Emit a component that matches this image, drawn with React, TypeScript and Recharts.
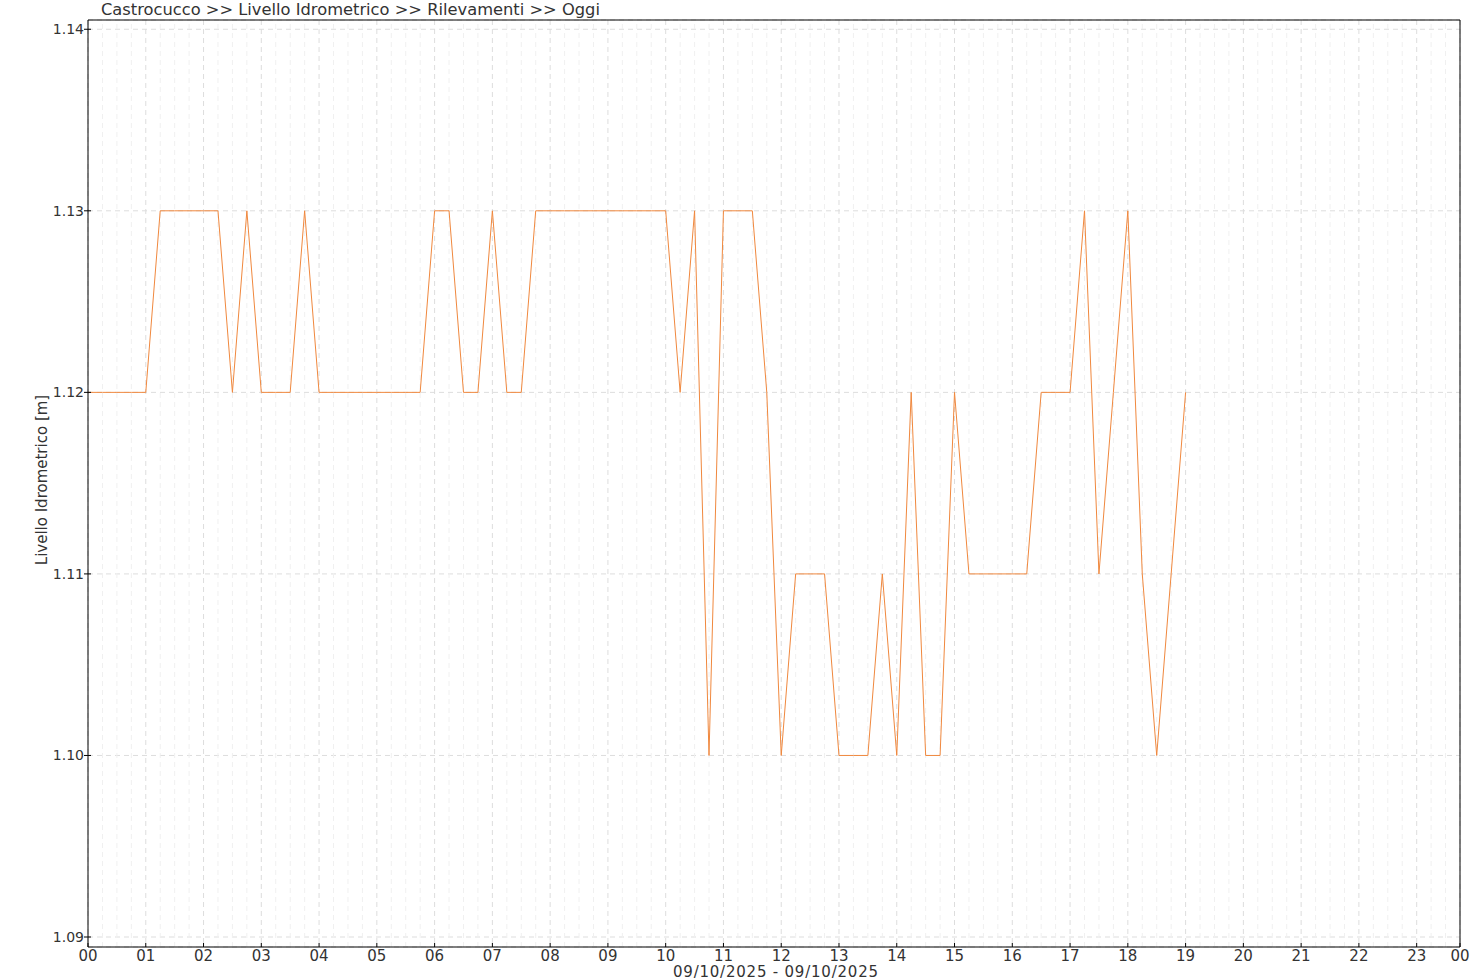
import React from 'react';
import { LineChart, Line, XAxis, YAxis, CartesianGrid, ReferenceLine } from 'recharts';

const title = 'Castrocucco >> Livello Idrometrico >> Rilevamenti >> Oggi';
const yAxisTitle = 'Livello Idrometrico [m]';
const dateRange = '09/10/2025 - 09/10/2025';

// readings every 15 minutes
const readingTimes = [
  '00:00', '00:15', '00:30', '00:45', '01:00', '01:15', '01:30', '01:45',
  '02:00', '02:15', '02:30', '02:45', '03:00', '03:15', '03:30', '03:45',
  '04:00', '04:15', '04:30', '04:45', '05:00', '05:15', '05:30', '05:45',
  '06:00', '06:15', '06:30', '06:45', '07:00', '07:15', '07:30', '07:45',
  '08:00', '08:15', '08:30', '08:45', '09:00', '09:15', '09:30', '09:45',
  '10:00', '10:15', '10:30', '10:45', '11:00', '11:15', '11:30', '11:45',
  '12:00', '12:15', '12:30', '12:45', '13:00', '13:15', '13:30', '13:45',
  '14:00', '14:15', '14:30', '14:45', '15:00', '15:15', '15:30', '15:45',
  '16:00', '16:15', '16:30', '16:45', '17:00', '17:15', '17:30', '17:45',
  '18:00', '18:15', '18:30', '18:45', '19:00',
];

const levels = [
  1.12, 1.12, 1.12, 1.12, 1.12, 1.13, 1.13, 1.13,
  1.13, 1.13, 1.12, 1.13, 1.12, 1.12, 1.12, 1.13,
  1.12, 1.12, 1.12, 1.12, 1.12, 1.12, 1.12, 1.12,
  1.13, 1.13, 1.12, 1.12, 1.13, 1.12, 1.12, 1.13,
  1.13, 1.13, 1.13, 1.13, 1.13, 1.13, 1.13, 1.13,
  1.13, 1.12, 1.13, 1.10, 1.13, 1.13, 1.13, 1.12,
  1.10, 1.11, 1.11, 1.11, 1.10, 1.10, 1.10, 1.11,
  1.10, 1.12, 1.10, 1.10, 1.12, 1.11, 1.11, 1.11,
  1.11, 1.11, 1.12, 1.12, 1.12, 1.13, 1.11, 1.12,
  1.13, 1.11, 1.10, 1.11, 1.12,
];

const hourLabels = [
  '00', '01', '02', '03', '04', '05', '06', '07', '08', '09', '10', '11',
  '12', '13', '14', '15', '16', '17', '18', '19', '20', '21', '22', '23', '00',
];
const yTicks = [1.09, 1.1, 1.11, 1.12, 1.13, 1.14];

// x axis runs in quarter hours, 00:00 .. 23:45
const X_MAX = 95;
const Y_MIN = 1.08945;
const Y_MAX = 1.14051;

const toQuarter = (t: string) => {
  const [h, m] = t.split(':').map(Number);
  return h * 4 + m / 15;
};

const data = readingTimes.map((t, i) => ({ q: toQuarter(t), level: levels[i] }));
const hourTicks = hourLabels.map((_, i) => Math.min(i * 4, X_MAX));
const minorTicks: number[] = [];
for (let q = 1; q < X_MAX; q++) if (q % 4 !== 0) minorTicks.push(q);

const FONT = 'DejaVu Sans';
const TEXT = '#333';

const XTick = (props: any) => {
  const { x, y, index } = props;
  return (
    <g>
      <line x1={x} x2={x} y1={y} y2={y - 4} stroke="#000" />
      <text x={x} y={y + 14} textAnchor="middle" fontSize={15} fontFamily={FONT} fill={TEXT}>
        {hourLabels[index]}
      </text>
    </g>
  );
};

const YTick = (props: any) => {
  const { x, y, payload } = props;
  return (
    <g>
      <line x1={x - 4} x2={x + 3} y1={y} y2={y} stroke="#000" />
      <text x={x - 4} y={y + 5} textAnchor="end" fontSize={14} fontFamily={FONT} fill={TEXT}>
        {Number(payload.value).toFixed(2)}
      </text>
    </g>
  );
};

export default function App() {
  return (
    <div style={{ position: 'absolute', left: 0, top: 0, width: 1480, height: 980, background: '#fff' }}>
      <LineChart width={1480} height={980} data={data} margin={{ top: 20, right: 20, bottom: 3, left: 28 }}>
        <CartesianGrid stroke="#ddd" strokeDasharray="5 4" />
        {minorTicks.map((q) => (
          <ReferenceLine key={q} x={q} stroke="#f0f0f0" strokeDasharray="5 4" />
        ))}
        <XAxis
          dataKey="q"
          type="number"
          domain={[0, X_MAX]}
          ticks={hourTicks}
          interval={0}
          allowDataOverflow
          tickSize={0}
          tickMargin={0}
          tickLine={false}
          tick={<XTick />}
          axisLine={{ stroke: '#000' }}
          height={30}
        />
        <YAxis
          type="number"
          domain={[Y_MIN, Y_MAX]}
          ticks={yTicks}
          interval={0}
          allowDataOverflow
          tickSize={0}
          tickMargin={0}
          tickLine={false}
          tick={<YTick />}
          axisLine={{ stroke: '#000' }}
          width={60}
        />
        <ReferenceLine y={Y_MAX} stroke="#000" />
        <ReferenceLine x={X_MAX} stroke="#000" />
        <Line
          type="linear"
          dataKey="level"
          stroke="#f0883e"
          strokeWidth={1}
          dot={false}
          isAnimationActive={false}
        />
      </LineChart>
      <svg
        width={1480}
        height={980}
        style={{ position: 'absolute', left: 0, top: 0, pointerEvents: 'none' }}
      >
        <text x={101} y={15} fontSize={16.3} fontFamily={FONT} fill={TEXT}>
          {title}
        </text>
        <text
          x={47}
          y={480}
          fontSize={15}
          fontFamily={FONT}
          fill={TEXT}
          textAnchor="middle"
          transform="rotate(-90 47 480)"
        >
          {yAxisTitle}
        </text>
        <text
          x={673}
          y={977}
          fontSize={15}
          fontFamily={FONT}
          fill={TEXT}
          textLength={205}
          lengthAdjust="spacing"
        >
          {dateRange}
        </text>
      </svg>
    </div>
  );
}
